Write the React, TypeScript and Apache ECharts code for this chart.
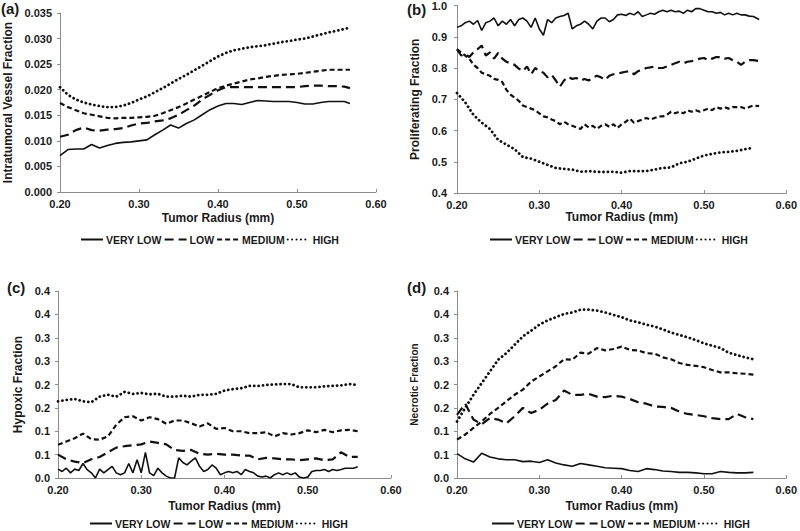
import React, { useEffect, useRef } from "react";
import * as echarts from "echarts";

const FONT = "'Liberation Sans', Arial, Helvetica, sans-serif";
const TEXT = "#1a1a1a";
const AXIS = "#8c8c8c";
const LINE = "#111111";

const seriesNames = ["VERY LOW", "LOW", "MEDIUM", "HIGH"];
const panelLabels = ["(a)", "(b)", "(c)", "(d)"];
const xTitle = "Tumor Radius (mm)";
const yTitles = ["Intratumoral Vessel Fraction", "Proliferating Fraction", "Hypoxic Fraction", "Necrotic Fraction"];

// x grids (Tumor Radius, mm)
const x10Long = [0.20, 0.21, 0.22, 0.23, 0.24, 0.25, 0.26, 0.27, 0.28, 0.29, 0.30, 0.31, 0.32, 0.33, 0.34, 0.35, 0.36, 0.37, 0.38, 0.39, 0.40, 0.41, 0.42, 0.43, 0.44, 0.45, 0.46, 0.47, 0.48, 0.49, 0.50, 0.51, 0.52, 0.53, 0.54, 0.55, 0.56, 0.567];
const x5Long = [0.200, 0.205, 0.210, 0.215, 0.220, 0.225, 0.230, 0.235, 0.240, 0.245, 0.250, 0.255, 0.260, 0.265, 0.270, 0.275, 0.280, 0.285, 0.290, 0.295, 0.300, 0.305, 0.310, 0.315, 0.320, 0.325, 0.330, 0.335, 0.340, 0.345, 0.350, 0.355, 0.360, 0.365, 0.370, 0.375, 0.380, 0.385, 0.390, 0.395, 0.400, 0.405, 0.410, 0.415, 0.420, 0.425, 0.430, 0.435, 0.440, 0.445, 0.450, 0.455, 0.460, 0.465, 0.470, 0.475, 0.480, 0.485, 0.490, 0.495, 0.500, 0.505, 0.510, 0.515, 0.520, 0.525, 0.530, 0.535, 0.540, 0.545, 0.550, 0.555, 0.560, 0.567];
const x10Short = [0.20, 0.21, 0.22, 0.23, 0.24, 0.25, 0.26, 0.27, 0.28, 0.29, 0.30, 0.31, 0.32, 0.33, 0.34, 0.35, 0.36, 0.37, 0.38, 0.39, 0.40, 0.41, 0.42, 0.43, 0.44, 0.45, 0.46, 0.47, 0.48, 0.49, 0.50, 0.51, 0.52, 0.53, 0.54, 0.55, 0.56];
const x5Short = [0.200, 0.205, 0.210, 0.215, 0.220, 0.225, 0.230, 0.235, 0.240, 0.245, 0.250, 0.255, 0.260, 0.265, 0.270, 0.275, 0.280, 0.285, 0.290, 0.295, 0.300, 0.305, 0.310, 0.315, 0.320, 0.325, 0.330, 0.335, 0.340, 0.345, 0.350, 0.355, 0.360, 0.365, 0.370, 0.375, 0.380, 0.385, 0.390, 0.395, 0.400, 0.405, 0.410, 0.415, 0.420, 0.425, 0.430, 0.435, 0.440, 0.445, 0.450, 0.455, 0.460, 0.465, 0.470, 0.475, 0.480, 0.485, 0.490, 0.495, 0.500, 0.505, 0.510, 0.515, 0.520, 0.525, 0.530, 0.535, 0.540, 0.545, 0.550, 0.555, 0.560];

// (a) Intratumoral vessel fraction
const aVeryLow = [0.0071, 0.0083, 0.0084, 0.0084, 0.0093, 0.0086, 0.0091, 0.0095, 0.0097, 0.0098, 0.0100, 0.0102, 0.0112, 0.0121, 0.0131, 0.0125, 0.0134, 0.0141, 0.0151, 0.0161, 0.0168, 0.0173, 0.0173, 0.0171, 0.0175, 0.0179, 0.0178, 0.0177, 0.0177, 0.0177, 0.0175, 0.0172, 0.0172, 0.0175, 0.0177, 0.0177, 0.0177, 0.0173];
const aLow = [0.0108, 0.0112, 0.0121, 0.0126, 0.0121, 0.0120, 0.0122, 0.0123, 0.0125, 0.0130, 0.0134, 0.0135, 0.0138, 0.0140, 0.0144, 0.0151, 0.0160, 0.0169, 0.0181, 0.0190, 0.0199, 0.0205, 0.0205, 0.0205, 0.0205, 0.0205, 0.0205, 0.0205, 0.0205, 0.0205, 0.0205, 0.0207, 0.0208, 0.0208, 0.0207, 0.0207, 0.0206, 0.0203];
const aMedium = [0.0174, 0.0166, 0.0160, 0.0154, 0.0151, 0.0148, 0.0145, 0.0144, 0.0145, 0.0145, 0.0146, 0.0147, 0.0149, 0.0154, 0.0160, 0.0166, 0.0173, 0.0181, 0.0188, 0.0196, 0.0203, 0.0208, 0.0212, 0.0216, 0.0220, 0.0222, 0.0225, 0.0227, 0.0229, 0.0230, 0.0231, 0.0233, 0.0235, 0.0237, 0.0239, 0.0239, 0.0239, 0.0239];
const aHigh = [0.0205, 0.0190, 0.0181, 0.0175, 0.0171, 0.0168, 0.0166, 0.0166, 0.0169, 0.0174, 0.0181, 0.0187, 0.0195, 0.0203, 0.0212, 0.0221, 0.0229, 0.0238, 0.0247, 0.0256, 0.0265, 0.0272, 0.0277, 0.0280, 0.0283, 0.0285, 0.0287, 0.0290, 0.0293, 0.0295, 0.0298, 0.0300, 0.0304, 0.0308, 0.0312, 0.0315, 0.0319, 0.0321];

// (b) Proliferating fraction
const bVeryLow = [0.930, 0.935, 0.945, 0.950, 0.940, 0.952, 0.920, 0.945, 0.950, 0.960, 0.935, 0.950, 0.940, 0.955, 0.935, 0.955, 0.960, 0.950, 0.930, 0.960, 0.925, 0.905, 0.955, 0.945, 0.960, 0.965, 0.968, 0.975, 0.925, 0.935, 0.940, 0.950, 0.940, 0.925, 0.950, 0.960, 0.960, 0.948, 0.955, 0.970, 0.972, 0.968, 0.975, 0.970, 0.980, 0.965, 0.970, 0.975, 0.972, 0.980, 0.985, 0.980, 0.985, 0.980, 0.982, 0.975, 0.985, 0.980, 0.990, 0.990, 0.985, 0.980, 0.980, 0.975, 0.978, 0.970, 0.975, 0.970, 0.975, 0.970, 0.970, 0.966, 0.965, 0.955];
const bLow = [0.860, 0.840, 0.845, 0.835, 0.850, 0.860, 0.872, 0.840, 0.850, 0.830, 0.848, 0.830, 0.820, 0.815, 0.810, 0.798, 0.790, 0.805, 0.780, 0.800, 0.790, 0.785, 0.770, 0.778, 0.760, 0.740, 0.760, 0.772, 0.765, 0.768, 0.760, 0.765, 0.760, 0.770, 0.775, 0.770, 0.762, 0.775, 0.780, 0.782, 0.785, 0.788, 0.790, 0.780, 0.790, 0.795, 0.800, 0.802, 0.805, 0.800, 0.800, 0.805, 0.810, 0.815, 0.820, 0.815, 0.820, 0.822, 0.825, 0.830, 0.832, 0.825, 0.830, 0.835, 0.835, 0.830, 0.832, 0.825, 0.820, 0.810, 0.820, 0.825, 0.825, 0.822];
const bMedium = [0.860, 0.850, 0.840, 0.830, 0.810, 0.800, 0.785, 0.780, 0.775, 0.765, 0.762, 0.755, 0.730, 0.715, 0.705, 0.695, 0.680, 0.675, 0.670, 0.665, 0.655, 0.645, 0.642, 0.635, 0.630, 0.620, 0.628, 0.620, 0.615, 0.610, 0.605, 0.620, 0.610, 0.615, 0.605, 0.615, 0.620, 0.612, 0.620, 0.608, 0.620, 0.628, 0.638, 0.625, 0.630, 0.635, 0.640, 0.635, 0.640, 0.645, 0.645, 0.650, 0.660, 0.655, 0.660, 0.655, 0.665, 0.660, 0.665, 0.660, 0.665, 0.670, 0.665, 0.675, 0.670, 0.675, 0.670, 0.675, 0.675, 0.675, 0.670, 0.675, 0.680, 0.678];
const bHigh = [0.720, 0.690, 0.650, 0.625, 0.605, 0.570, 0.555, 0.540, 0.515, 0.510, 0.500, 0.490, 0.480, 0.477, 0.475, 0.468, 0.470, 0.468, 0.467, 0.468, 0.465, 0.470, 0.470, 0.470, 0.475, 0.480, 0.482, 0.495, 0.500, 0.510, 0.520, 0.525, 0.530, 0.532, 0.535, 0.540, 0.545];

// (c) Hypoxic fraction
const cVeryLow = [0.019, 0.014, 0.021, 0.011, 0.019, 0.016, 0.031, 0.018, 0.011, 0.000, 0.019, 0.011, 0.018, 0.025, 0.011, 0.007, 0.011, 0.031, 0.011, 0.039, 0.011, 0.055, 0.011, 0.005, 0.021, 0.011, 0.004, 0.000, 0.000, 0.043, 0.033, 0.028, 0.036, 0.043, 0.025, 0.014, 0.018, 0.028, 0.021, 0.007, 0.011, 0.014, 0.011, 0.014, 0.007, 0.018, 0.014, 0.011, 0.004, 0.002, 0.004, 0.000, 0.007, 0.011, 0.007, 0.011, 0.007, 0.011, 0.002, 0.000, 0.002, 0.014, 0.016, 0.016, 0.018, 0.014, 0.018, 0.016, 0.018, 0.021, 0.021, 0.021, 0.024];
const cLow = [0.050, 0.040, 0.035, 0.032, 0.040, 0.045, 0.055, 0.065, 0.068, 0.070, 0.072, 0.078, 0.075, 0.072, 0.060, 0.058, 0.060, 0.052, 0.050, 0.052, 0.050, 0.050, 0.048, 0.048, 0.040, 0.043, 0.042, 0.040, 0.040, 0.038, 0.040, 0.042, 0.038, 0.040, 0.055, 0.045, 0.045];
const cMedium = [0.071, 0.078, 0.085, 0.095, 0.083, 0.082, 0.089, 0.114, 0.130, 0.132, 0.123, 0.130, 0.126, 0.116, 0.123, 0.123, 0.117, 0.110, 0.117, 0.105, 0.107, 0.100, 0.100, 0.096, 0.096, 0.098, 0.089, 0.096, 0.093, 0.096, 0.102, 0.098, 0.103, 0.098, 0.102, 0.103, 0.100];
const cHigh = [0.164, 0.167, 0.169, 0.164, 0.162, 0.174, 0.178, 0.174, 0.184, 0.180, 0.182, 0.179, 0.180, 0.174, 0.174, 0.176, 0.174, 0.178, 0.178, 0.180, 0.187, 0.190, 0.192, 0.197, 0.197, 0.199, 0.200, 0.201, 0.201, 0.194, 0.194, 0.194, 0.196, 0.197, 0.198, 0.201, 0.199];

// (d) Necrotic fraction
const dVeryLow = [0.052, 0.041, 0.034, 0.053, 0.045, 0.041, 0.039, 0.039, 0.035, 0.036, 0.033, 0.039, 0.032, 0.028, 0.025, 0.031, 0.028, 0.025, 0.022, 0.021, 0.020, 0.016, 0.014, 0.020, 0.018, 0.015, 0.014, 0.012, 0.012, 0.011, 0.009, 0.009, 0.014, 0.012, 0.011, 0.011, 0.012];
const dLow = [0.135, 0.159, 0.125, 0.115, 0.128, 0.125, 0.117, 0.132, 0.150, 0.139, 0.146, 0.159, 0.167, 0.187, 0.178, 0.178, 0.180, 0.174, 0.173, 0.176, 0.174, 0.169, 0.162, 0.159, 0.153, 0.152, 0.150, 0.142, 0.137, 0.135, 0.132, 0.128, 0.126, 0.126, 0.137, 0.130, 0.126];
const dMedium = [0.082, 0.093, 0.107, 0.121, 0.137, 0.150, 0.164, 0.178, 0.189, 0.206, 0.217, 0.228, 0.239, 0.254, 0.253, 0.268, 0.266, 0.278, 0.273, 0.276, 0.281, 0.274, 0.273, 0.267, 0.266, 0.258, 0.254, 0.246, 0.242, 0.240, 0.237, 0.231, 0.226, 0.226, 0.224, 0.223, 0.221];
const dHigh = [0.121, 0.150, 0.178, 0.203, 0.228, 0.253, 0.267, 0.285, 0.303, 0.315, 0.328, 0.337, 0.344, 0.351, 0.354, 0.360, 0.360, 0.358, 0.354, 0.349, 0.344, 0.337, 0.333, 0.328, 0.324, 0.318, 0.311, 0.306, 0.301, 0.295, 0.288, 0.283, 0.278, 0.268, 0.263, 0.258, 0.254];

const panels = [
  { xs: [x10Long, x10Long, x10Long, x10Long], ys: [aVeryLow, aLow, aMedium, aHigh] },
  { xs: [x5Long, x5Long, x5Long, x10Long], ys: [bVeryLow, bLow, bMedium, bHigh] },
  { xs: [x5Short, x10Short, x10Short, x10Short], ys: [cVeryLow, cLow, cMedium, cHigh] },
  { xs: [x10Short, x10Short, x10Short, x10Short], ys: [dVeryLow, dLow, dMedium, dHigh] },
];

const lineStyles: any[] = [
  { width: 1.6, type: "solid" },
  { width: 2.2, type: [9, 5] },
  { width: 2.2, type: [5, 3] },
  { width: 2.8, type: [0.1, 4.3], cap: "round" },
];

const grids = [
  { left: 60, top: 13, width: 316, height: 179 },
  { left: 457, top: 5, width: 332, height: 188 },
  { left: 58, top: 291, width: 333, height: 187 },
  { left: 457, top: 291, width: 332, height: 187 },
];

const halfUp1 = (v: number) => (Math.round(v * 10 + 1e-6) / 10).toFixed(1);

export default function App() {
  const ref = useRef<HTMLDivElement>(null);
  useEffect(() => {
    if (!ref.current) return;
    const chart = echarts.init(ref.current, null, { renderer: "svg" });
    const bold = { fontFamily: FONT, fontWeight: "bold" as const, color: TEXT };

    const xGaps = [20, 15, 22, 22];
    const xAxis = grids.map((_, i) => ({
      type: "value",
      gridIndex: i,
      min: 0.2,
      max: 0.6,
      interval: 0.1,
      name: xTitle,
      nameLocation: "middle",
      nameGap: xGaps[i],
      nameTextStyle: { ...bold, fontSize: 12 },
      axisLine: { show: true, lineStyle: { color: AXIS, width: 1 } },
      axisTick: { show: true, inside: true, length: 3, lineStyle: { color: AXIS } },
      axisLabel: { ...bold, fontSize: 11, margin: 6, formatter: (v: number) => v.toFixed(2) },
      splitLine: { show: false },
    }));

    const yCfg = [
      { min: 0, max: 0.035, interval: 0.005, fmt: (v: number) => v.toFixed(3), gap: 46, size: 12, margin: 8 },
      { min: 0.4, max: 1.0, interval: 0.1, fmt: (v: number) => v.toFixed(1), gap: 36, size: 12, margin: 10 },
      { min: 0, max: 0.4, interval: 0.05, fmt: halfUp1, gap: 34, size: 12, margin: 8 },
      { min: 0, max: 0.4, interval: 0.05, fmt: halfUp1, gap: 38, size: 10, margin: 8 },
    ];
    const yAxis = yCfg.map((c, i) => ({
      type: "value",
      gridIndex: i,
      min: c.min,
      max: c.max,
      interval: c.interval,
      name: yTitles[i],
      nameLocation: "middle",
      nameGap: c.gap,
      nameRotate: 90,
      nameTextStyle: { ...bold, fontSize: c.size },
      axisLine: { show: true, lineStyle: { color: AXIS, width: 1 } },
      axisTick: { show: true, inside: false, length: 3, lineStyle: { color: AXIS } },
      axisLabel: { ...bold, fontSize: 11, margin: c.margin, formatter: c.fmt },
      splitLine: { show: false },
    }));

    const series: any[] = [];
    panels.forEach((p, pi) => {
      p.ys.forEach((ys, si) => {
        const xs = p.xs[si];
        series.push({
          type: "line",
          name: seriesNames[si],
          xAxisIndex: pi,
          yAxisIndex: pi,
          symbol: "none",
          showSymbol: false,
          smooth: false,
          lineStyle: { color: LINE, ...lineStyles[si] },
          itemStyle: { color: LINE },
          emphasis: { disabled: true },
          data: ys.map((y, k) => [xs[k], y]),
        });
      });
    });

    const legendPos = [
      { left: 80, top: 234 },
      { left: 489, top: 234 },
      { left: 89, top: 518 },
      { left: 491, top: 518 },
    ];
    const legend = legendPos.map((lp) => ({
      ...lp,
      orient: "horizontal",
      padding: 0,
      itemGap: 2,
      itemWidth: 22,
      itemHeight: 9,
      selectedMode: false,
      data: seriesNames,
      itemStyle: { opacity: 0 },
      textStyle: { ...bold, fontSize: 10.5, padding: [0, 0, 0, -2] },
    }));

    const labelPos = [
      [1, 1],
      [407, 2],
      [7, 280],
      [407, 280],
    ];
    const graphic = panelLabels.map((t, i) => ({
      type: "text",
      left: labelPos[i][0],
      top: labelPos[i][1],
      style: { text: t, font: `bold 15px ${FONT}`, fill: TEXT },
    }));

    chart.setOption({
      animation: false,
      backgroundColor: "#ffffff",
      grid: grids.map((g) => ({ ...g, containLabel: false })),
      xAxis,
      yAxis,
      legend,
      graphic,
      series,
    });
    return () => chart.dispose();
  }, []);
  return <div ref={ref} style={{ position: "absolute", left: 0, top: 0, width: 800, height: 531 }} />;
}
